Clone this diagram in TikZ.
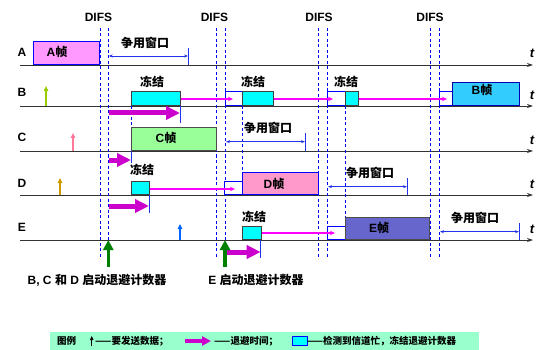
\documentclass[tikz,border=0pt]{standalone}
\usepackage{fontspec}
\setmainfont{Liberation Sans}
\newfontfamily\cjk{Noto Sans CJK SC}
\usetikzlibrary{arrows.meta}
\definecolor{dashblue}{HTML}{0000FF}
\definecolor{winblue}{HTML}{2233EE}
\definecolor{thinmag}{HTML}{FF00FF}
\definecolor{thickmag}{HTML}{CC00CC}
\definecolor{afill}{HTML}{FF99FF}
\definecolor{bfill}{HTML}{33CCFF}
\definecolor{cfill}{HTML}{99FF99}
\definecolor{dfill}{HTML}{FF99CC}
\definecolor{efill}{HTML}{6666CC}
\definecolor{cyanbox}{HTML}{00FFFF}
\definecolor{legbg}{HTML}{99FFCC}
\definecolor{upB}{HTML}{99CC00}
\definecolor{upC}{HTML}{FF7799}
\definecolor{upD}{HTML}{CC9900}
\definecolor{upE}{HTML}{0066FF}
\definecolor{bigG}{HTML}{008000}
\newcommand\zh{\cjk\bfseries}
\tikzset{
  txt/.style={font=\bfseries\fontsize{12}{14}\selectfont, inner sep=0pt},
  tlab/.style={font=\bfseries\itshape\fontsize{13}{14}\selectfont, inner sep=0pt},
  legtxt/.style={font=\cjk\bfseries\fontsize{9.5}{11}\selectfont, inner sep=0pt, anchor=west},
  tline/.style={draw=black!80, line width=0.9pt, -{Stealth[length=6pt,width=4pt]}},
  dl/.style={draw=dashblue, line width=0.8pt, dash pattern=on 3pt off 2.5pt},
  frame/.style={draw=blue, line width=0.9pt, inner sep=0pt, anchor=south west},
  cbox/.style={draw=black!75, line width=0.9pt, fill=cyanbox, inner sep=0pt, anchor=south west},
  wbox/.style={draw=blue, line width=0.8pt, fill=white, inner sep=0pt, anchor=south west},
  thin/.style={draw=thinmag, line width=1.3pt, -{Stealth[length=5pt,width=4.5pt]}},
  thick/.style={draw=thickmag, line width=5pt, -{Triangle[length=14pt,width=13pt]}},
  win/.style={draw=winblue, line width=0.8pt, {Stealth[length=4pt,width=3pt]}-{Stealth[length=4pt,width=3pt]}},
  bar/.style={draw=winblue, line width=1pt},
  up/.style={line width=1.3pt, -{Triangle[length=5pt,width=4.5pt]}},
  bigup/.style={draw=bigG, line width=3.5pt, -{Triangle[length=10pt,width=10pt]}}
}
\begin{document}
\begin{tikzpicture}[x=1pt,y=-1pt]
\useasboundingbox (0,0) rectangle (546,350);
% DIFS labels
\node[txt] (difs1) at (98.5,17) {DIFS};
\node[txt] (difs2) at (214.5,17) {DIFS};
\node[txt] (difs3) at (319,17) {DIFS};
\node[txt] (difs4) at (430,17) {DIFS};
% row labels
\node[txt] (la) at (22,52) {A};
\node[txt] (lb) at (22,92) {B};
\node[txt] (lc) at (22,137) {C};
\node[txt] (ld) at (22,183) {D};
\node[txt] (le) at (22,227) {E};
% t labels
\node[tlab] (ta) at (532,53) {t};
\node[tlab] (tb) at (532,95) {t};
\node[tlab] (tc) at (532,140) {t};
\node[tlab] (td) at (532,184) {t};
\node[tlab] (te) at (532,229) {t};
% time lines
\foreach \n/\y in {A/65,B/106,C/151,D/195,E/240}{
  \coordinate (\n s) at (20,\y);
  \coordinate (\n e) at (533,\y);
  \draw[tline] (\n s) -- (\n e);
}
% dashed lines
\foreach \i/\x in {1/100,2/108.7,3/216,4/225,5/318.5,6/327.3,7/430,8/439}{
  \coordinate (dt\i) at (\x,28);
  \coordinate (db\i) at (\x,257);
  \draw[dl] (dt\i) -- (db\i);
}
\coordinate (s1t) at (131,106); \coordinate (s1b) at (131,128);
\coordinate (s2t) at (242,106); \coordinate (s2b) at (242,173);
\coordinate (s3t) at (345,106); \coordinate (s3b) at (345,218);
\draw[dl] (s1t) -- (s1b);
\draw[dl] (s2t) -- (s2b);
\draw[dl] (s3t) -- (s3b);
% A frame
\node[frame, fill=afill, minimum width=66pt, minimum height=22.7pt] (aframe) at (33.3,65) {};
\node[txt] (atext) at (57,52) {A{\zh 帧}};
% A contention window
\coordinate (wa1) at (108.7,56); \coordinate (wa2) at (188,56);
\coordinate (wab1) at (188,48); \coordinate (wab2) at (188,65);
\draw[win] (wa1) -- (wa2);
\draw[bar] (wab1) -- (wab2);
\node[txt,font=\zh\fontsize{12}{14}\selectfont] (wal) at (145,43) {争用窗口};
% B row
\node[wbox, minimum width=17pt, minimum height=14pt] (bw1) at (225,106) {};
\node[wbox, minimum width=17.7pt, minimum height=14pt] (bw2) at (327.3,106) {};
\node[wbox, minimum width=13.3pt, minimum height=14pt] (bw3) at (439,106) {};
\node[cbox, minimum width=49pt, minimum height=14pt] (bc1) at (131,106) {};
\node[cbox, minimum width=31pt, minimum height=14pt] (bc2) at (242.3,106) {};
\node[cbox, minimum width=13pt, minimum height=14pt] (bc3) at (345,106) {};
\node[frame, draw=blue!70!black, fill=bfill, minimum width=67pt, minimum height=22.7pt] (bframe) at (452.3,106) {};
\node[txt] (btext) at (482,90) {B{\zh 帧}};
\coordinate (bm1) at (233,99); \coordinate (bm2) at (333,99); \coordinate (bm3) at (447,99);
\draw[thin] (bc1.east |- bm1) -- (bm1);
\draw[thin] (bc2.east |- bm2) -- (bm2);
\draw[thin] (bc3.east |- bm3) -- (bm3);
\node[txt,font=\zh\fontsize{12}{14}\selectfont] (bf1) at (152,82) {冻结};
\node[txt,font=\zh\fontsize{12}{14}\selectfont] (bf2) at (253,82) {冻结};
\node[txt,font=\zh\fontsize{12}{14}\selectfont] (bf3) at (346,82) {冻结};
\coordinate (bv1) at (180,106); \coordinate (bv2) at (180,123);
\draw[bar] (bv1) -- (bv2);
\coordinate (bk1) at (109,113); \coordinate (bk2) at (180,113);
\draw[thick] (bk1) -- (bk2);
\coordinate (bu1) at (46,106); \coordinate (bu2) at (46,86);
\draw[up, draw=upB, fill=upB] (bu1) -- (bu2);
% C row
\node[frame, draw=black!70, fill=cfill, minimum width=84.7pt, minimum height=23.3pt] (cframe) at (131,151) {};
\node[txt] (ctext) at (166,138) {C{\zh 帧}};
\coordinate (wc1) at (226,141.7); \coordinate (wc2) at (305,141.7);
\coordinate (wcb1) at (305,133); \coordinate (wcb2) at (305,151);
\draw[win] (wc1) -- (wc2);
\draw[bar] (wcb1) -- (wcb2);
\node[txt,font=\zh\fontsize{12}{14}\selectfont] (wcl) at (268,128) {争用窗口};
\coordinate (cv1) at (131,151); \coordinate (cv2) at (131,163);
\draw[bar] (cv1) -- (cv2);
\coordinate (ck1) at (109,160); \coordinate (ck2) at (131,160);
\draw[thick] (ck1) -- (ck2);
\coordinate (cu1) at (73,151); \coordinate (cu2) at (73,133);
\draw[up, draw=upC, fill=upC] (cu1) -- (cu2);
% D row
\node[wbox, minimum width=17.7pt, minimum height=13pt] (dw1) at (224.3,195) {};
\node[cbox, minimum width=18pt, minimum height=13pt] (dc1) at (131,195) {};
\node[frame, fill=dfill, minimum width=76pt, minimum height=21.7pt] (dframe) at (242.3,195) {};
\node[txt] (dtext) at (274,184) {D{\zh 帧}};
\coordinate (dm1) at (235,189);
\draw[thin] (dc1.east |- dm1) -- (dm1);
\node[txt,font=\zh\fontsize{12}{14}\selectfont] (df1) at (142,170) {冻结};
\coordinate (dv1) at (149,195); \coordinate (dv2) at (149,213);
\draw[bar] (dv1) -- (dv2);
\coordinate (dk1) at (109,206); \coordinate (dk2) at (149,206);
\draw[thick] (dk1) -- (dk2);
\coordinate (wd1) at (328,186.7); \coordinate (wd2) at (407,186.7);
\coordinate (wdb1) at (407,178); \coordinate (wdb2) at (407,195);
\draw[win] (wd1) -- (wd2);
\draw[bar] (wdb1) -- (wdb2);
\node[txt,font=\zh\fontsize{12}{14}\selectfont] (wdl) at (370,173) {争用窗口};
\coordinate (du1) at (60,195); \coordinate (du2) at (60,178);
\draw[up, draw=upD, fill=upD] (du1) -- (du2);
% E row
\node[wbox, minimum width=17.7pt, minimum height=13pt] (ew1) at (327.3,240) {};
\node[cbox, minimum width=18.4pt, minimum height=13pt] (ec1) at (242.3,240) {};
\node[frame, draw=black!70, fill=efill, minimum width=84.3pt, minimum height=21.7pt] (eframe) at (345,240) {};
\node[txt] (etext) at (379,228) {E{\zh 帧}};
\coordinate (em1) at (335,233);
\draw[thin] (ec1.east |- em1) -- (em1);
\node[txt,font=\zh\fontsize{12}{14}\selectfont] (ef1) at (254,217) {冻结};
\coordinate (ev1) at (260.7,240); \coordinate (ev2) at (260.7,258);
\draw[bar] (ev1) -- (ev2);
\coordinate (ek1) at (225,252); \coordinate (ek2) at (260.7,252);
\draw[thick] (ek1) -- (ek2);
\coordinate (we1) at (440,231.7); \coordinate (we2) at (519,231.7);
\coordinate (web1) at (519,223); \coordinate (web2) at (519,240);
\draw[win] (we1) -- (we2);
\draw[bar] (web1) -- (web2);
\node[txt,font=\zh\fontsize{12}{14}\selectfont] (wel) at (475,218) {争用窗口};
\coordinate (eu1) at (180,240); \coordinate (eu2) at (180,224);
\draw[up, draw=upE, fill=upE] (eu1) -- (eu2);
% big green arrows
\coordinate (g1a) at (108.3,267); \coordinate (g1b) at (108.3,240);
\coordinate (g2a) at (225,267); \coordinate (g2b) at (225,240);
\draw[bigup] (g1a) -- (g1b);
\draw[bigup] (g2a) -- (g2b);
\node[txt] (bot1) at (97,280) {B, C {\zh 和} D {\zh 启动退避计数器}};
\node[txt] (bot2) at (256,280) {E {\zh 启动退避计数器}};
% legend
\node[draw=none, fill=legbg, inner sep=0pt, minimum width=429pt, minimum height=18pt, anchor=north west] (leg) at (50,332) {};
\node[legtxt] (lg1) at (57,341) {图例};
\coordinate (lu1) at (91.7,346); \coordinate (lu2) at (91.7,336);
\draw[line width=1pt, draw=black, -{Triangle[length=4pt,width=3.5pt]}] (lu1) -- (lu2);
\node[legtxt] (lg2) at (95,341) {——要发送数据；};
\coordinate (lk1) at (185,341); \coordinate (lk2) at (211,341);
\draw[draw=thickmag, line width=3.5pt, -{Triangle[length=9pt,width=9pt]}] (lk1) -- (lk2);
\node[legtxt] (lg3) at (214,341) {——退避时间；};
\node[draw=blue, line width=0.9pt, fill=cyanbox, inner sep=0pt, minimum width=15pt, minimum height=8.7pt, anchor=west] (lgbox) at (291.7,341) {};
\node[legtxt] (lg4) at (306.7,341) {——检测到信道忙，冻结退避计数器};
\end{tikzpicture}
\end{document}
